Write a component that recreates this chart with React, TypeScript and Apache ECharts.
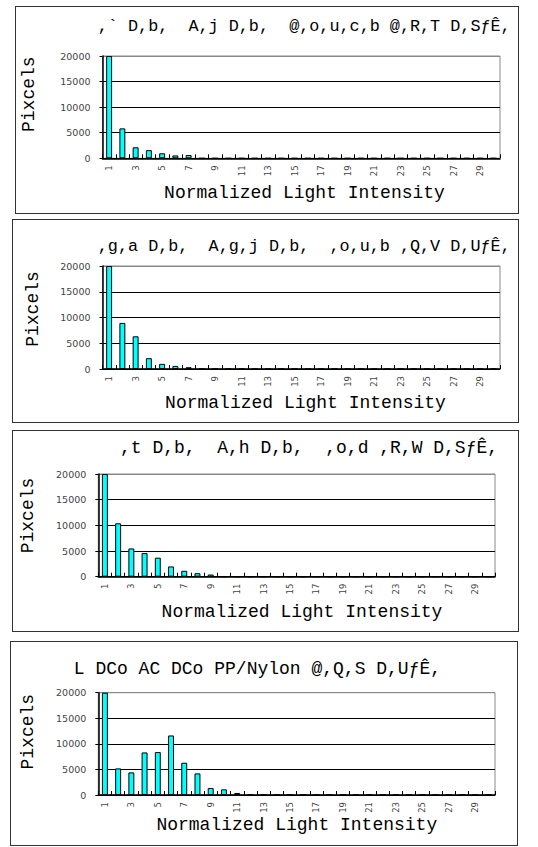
import React, { useEffect, useRef } from "react";
import * as echarts from "echarts";

const categories = [
  "1", "2", "3", "4", "5", "6", "7", "8", "9", "10",
  "11", "12", "13", "14", "15", "16", "17", "18", "19", "20",
  "21", "22", "23", "24", "25", "26", "27", "28", "29", "30",
];

const yMin = 0;
const yMax = 20000;
const yStep = 5000;

const titles = [
  ",` D,b,  A,j D,b,  @,o,u,c,b @,R,T D,S\u0192\u00CA,",
  ",g,a D,b,  A,g,j D,b,  ,o,u,b ,Q,V D,U\u0192\u00CA,",
  ",t D,b,  A,h D,b,  ,o,d ,R,W D,S\u0192\u00CA,",
  "L DCo AC DCo PP/Nylon @,Q,S D,U\u0192\u00CA,",
];

const xName = "Normalized Light Intensity";
const yName = "Pixcels";

const series1 = [20000, 5850, 2150, 1600, 980, 560, 640, 0, 0, 0, 0, 0, 0, 0, 0, 0, 0, 0, 0, 0, 0, 0, 0, 0, 0, 0, 0, 0, 0, 0];
const series2 = [20000, 8950, 6350, 2100, 1000, 600, 350, 0, 0, 0, 0, 0, 0, 0, 0, 0, 0, 0, 0, 0, 0, 0, 0, 0, 0, 0, 0, 0, 0, 0];
const series3 = [20000, 10400, 5500, 4600, 3700, 2000, 1150, 680, 420, 0, 0, 0, 0, 0, 0, 0, 0, 0, 0, 0, 0, 0, 0, 0, 0, 0, 0, 0, 0, 0];
const series4 = [20000, 5200, 4420, 8320, 8390, 11640, 6310, 4220, 1360, 1100, 400, 0, 0, 0, 0, 0, 0, 0, 0, 0, 0, 0, 0, 0, 0, 0, 0, 0, 0, 0];

const allSeries = [series1, series2, series3, series4];

type Layout = {
  box: { left: number; top: number; width: number; height: number };
  grid: { left: number; top: number; width: number; height: number };
  title: { x: number; y: number; size: number };
  yName: { x: number; y: number };
  xName: { x: number; y: number };
};

const layouts: Layout[] = [
  {
    box: { left: 15, top: 6, width: 504, height: 208 },
    grid: { left: 86.5, top: 49, width: 397.5, height: 102.3 },
    title: { x: 81.8, y: 19, size: 16.8 },
    yName: { x: 13.2, y: 87.2 },
    xName: { x: 288.5, y: 186.3 },
  },
  {
    box: { left: 12, top: 219, width: 507, height: 204 },
    grid: { left: 89.5, top: 46, width: 397.5, height: 103 },
    title: { x: 84.8, y: 26.7, size: 16.8 },
    yName: { x: 19.6, y: 89 },
    xName: { x: 292.5, y: 183.3 },
  },
  {
    box: { left: 12, top: 430, width: 507, height: 202 },
    grid: { left: 85.3, top: 43, width: 396.7, height: 102.7 },
    title: { x: 107, y: 17.3, size: 18 },
    yName: { x: 15, y: 84.5 },
    xName: { x: 289, y: 180.7 },
  },
  {
    box: { left: 10, top: 641, width: 508, height: 205 },
    grid: { left: 87.3, top: 50.7, width: 396.7, height: 102.3 },
    title: { x: 62.8, y: 27.3, size: 18 },
    yName: { x: 17, y: 89.7 },
    xName: { x: 285.8, y: 183 },
  },
];

const MONO = "'Courier New', 'Liberation Mono', monospace";
const SANS = "'DejaVu Sans', Verdana, sans-serif";

function buildOption(idx: number) {
  const L = layouts[idx];
  return {
    animation: false,
    grid: {
      left: L.grid.left,
      top: L.grid.top,
      width: L.grid.width,
      height: L.grid.height,
      show: true,
      borderColor: "#888",
      borderWidth: 1,
      backgroundColor: "#fff",
    },
    xAxis: {
      type: "category",
      data: categories,
      boundaryGap: true,
      axisLine: { show: true, lineStyle: { color: "#000", width: 1.5 } },
      axisTick: { show: true, inside: true, length: 4, interval: 0, lineStyle: { color: "#000" } },
      axisLabel: {
        interval: 1,
        rotate: 90,
        fontSize: 8.5,
        fontFamily: SANS,
        color: "#444",
        margin: 7,
      },
      splitLine: { show: false },
    },
    yAxis: {
      type: "value",
      min: yMin,
      max: yMax,
      interval: yStep,
      axisLine: { show: true, lineStyle: { color: "#000", width: 1.5 } },
      axisTick: { show: true, length: 3, lineStyle: { color: "#000" } },
      axisLabel: {
        fontSize: 9.5,
        fontFamily: SANS,
        color: "#444",
        margin: 12,
        formatter: (v: number) => String(v),
      },
      splitLine: { show: true, lineStyle: { color: ["#000", "#000", "#000", "#000", "#888"], width: 1 } },
    },
    series: [
      {
        type: "bar",
        data: allSeries[idx],
        barWidth: "45%",
        itemStyle: { color: "#00FFFF", borderColor: "#000", borderWidth: 1 },
      },
    ],
    graphic: [
      {
        type: "text",
        x: L.title.x,
        y: L.title.y,
        style: {
          text: titles[idx],
          font: `${L.title.size}px ${MONO}`,
          fill: "#000",
          textVerticalAlign: "middle",
          textAlign: "left",
        },
      },
      {
        type: "text",
        x: L.yName.x,
        y: L.yName.y,
        rotation: Math.PI / 2,
        style: { text: yName, font: `18px ${MONO}`, fill: "#000", textVerticalAlign: "middle", textAlign: "center" },
      },
      {
        type: "text",
        x: L.xName.x,
        y: L.xName.y,
        style: { text: xName, font: `18px ${MONO}`, fill: "#000", textVerticalAlign: "middle", textAlign: "center" },
      },
    ],
  };
}

function Panel({ idx }: { idx: number }) {
  const ref = useRef<HTMLDivElement>(null);
  useEffect(() => {
    if (!ref.current) return;
    const chart = echarts.init(ref.current, null, { renderer: "svg" });
    chart.setOption(buildOption(idx) as any);
    return () => chart.dispose();
  }, [idx]);
  const b = layouts[idx].box;
  return (
    <div
      style={{
        position: "absolute",
        left: b.left,
        top: b.top,
        width: b.width,
        height: b.height,
        border: "1px solid #333",
        boxSizing: "border-box",
        overflow: "hidden",
        background: "#fff",
      }}
    >
      <div ref={ref} style={{ width: "100%", height: "100%" }} />
    </div>
  );
}

export default function App() {
  return (
    <div style={{ position: "absolute", left: 0, top: 0, width: 538, height: 847, background: "#fff" }}>
      {layouts.map((_, i) => (
        <Panel key={i} idx={i} />
      ))}
    </div>
  );
}
